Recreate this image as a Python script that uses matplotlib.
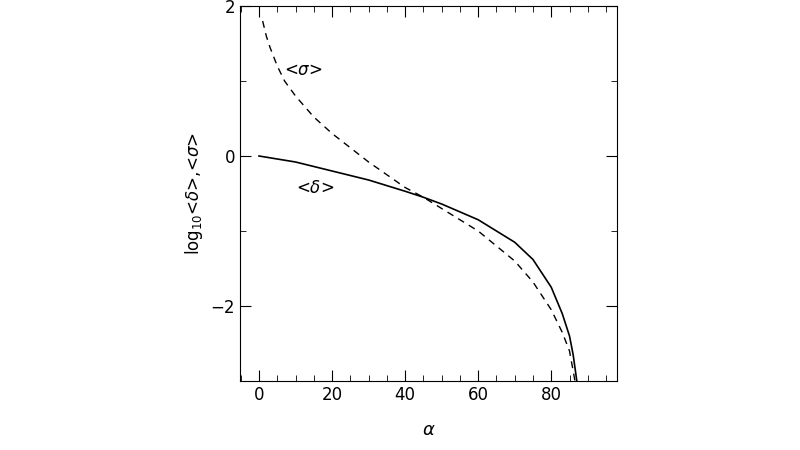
import matplotlib
matplotlib.use("Agg")
import matplotlib.pyplot as plt
import numpy as np

alpha_d = [0, 10, 20, 30, 40, 45, 50, 60, 70, 75, 80, 83, 85, 86, 87]
delta   = [0, -0.08, -0.2, -0.32, -0.47, -0.55, -0.64, -0.85, -1.15, -1.38, -1.75, -2.1, -2.4, -2.65, -3.0]
alpha_s = [1, 2, 3, 5, 7, 10, 15, 20, 30, 40, 45, 50, 60, 70, 75, 80, 83, 85, 86.5]
sigma   = [1.8, 1.6, 1.45, 1.2, 1.0, 0.8, 0.52, 0.3, -0.08, -0.42, -0.55, -0.7, -1.0, -1.4, -1.68, -2.05, -2.35, -2.6, -3.0]

fig = plt.figure(figsize=(8, 4.5), dpi=100)
ax = fig.add_axes([240/800, 1-381/450, 377/800, 375/450])
ax.plot(alpha_d, delta, color='black', lw=1.2)
ax.plot(alpha_s, sigma, color='black', lw=1.0, ls=(0, (5, 4)))
ax.set_xlim(-5.2, 98)
ax.set_ylim(-3, 2)
ax.set_xticks([0, 20, 40, 60, 80])
ax.set_xticks(np.arange(-5, 98, 5), minor=True)
ax.set_yticks([-2, 0, 2])
ax.set_yticks([-3, -1, 1], minor=True)
ax.set_yticklabels(['−2', '0', '2'])
ax.tick_params(direction='in', top=True, right=True, which='both', labelsize=12)
ax.tick_params(which='major', length=8)
ax.tick_params(which='minor', length=4)
ax.set_xlabel(r'$\alpha$', fontsize=13, labelpad=12)
ax.set_ylabel(r'log$_{10}$<$\delta$>,<$\sigma$>', fontsize=12)
ax.text(12, 1.15, r'<$\sigma$>', fontsize=12, ha='center', va='center')
ax.text(15.5, -0.43, r'<$\delta$>', fontsize=12, ha='center', va='center')
fig.savefig("out.png", dpi=100)
